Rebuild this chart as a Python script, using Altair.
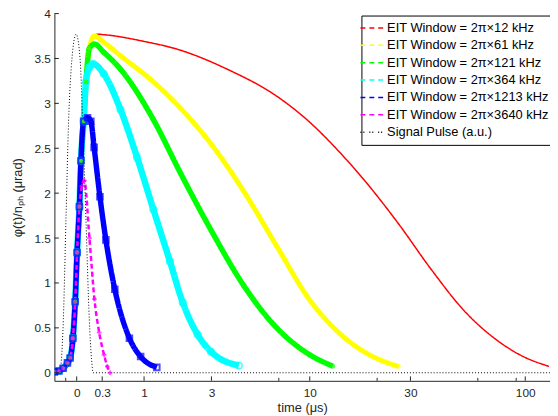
import altair as alt
import pandas as pd

# ---------------- data ----------------
labels = [
    "EIT Window = 2π×12 kHz",
    "EIT Window = 2π×61 kHz",
    "EIT Window = 2π×121 kHz",
    "EIT Window = 2π×364 kHz",
    "EIT Window = 2π×1213 kHz",
    "EIT Window = 2π×3640 kHz",
    "Signal Pulse (a.u.)",
]
colors = ["#ff0000", "#ffff00", "#00ff00", "#00ffff", "#0000ff", "#ff00ff", "#000000"]
dashes = [[1, 0], [1, 0], [1, 0], [1, 0], [1, 0], [5, 3], [1, 2]]

# common rising edge (time in µs, phase in µrad)
rise_t = [-0.258, -0.2, -0.15, -0.1, -0.07, -0.04, -0.016, 0.004, 0.028, 0.045, 0.074, 0.1, 0.138]
rise_y = [0.01, 0.02, 0.05, 0.11, 0.165, 0.385, 0.79, 1.34, 1.85, 2.36, 2.80, 3.24, 3.61]

red_t = [0.2, 0.24, 0.32, 1.0, 1.84, 3.71, 6.83, 10, 13.4, 18.5, 26.4, 37.4, 52.9, 74.7, 98, 128]
red_y = [3.75, 3.77, 3.765, 3.69, 3.60, 3.38, 3.08, 2.79, 2.50, 2.13, 1.66, 1.15, 0.69, 0.36, 0.18, 0.071]

yellow_t = [0.2, 0.32, 0.57, 1.2, 1.9, 2.98, 4.58, 6.83, 10, 14.4, 18.5, 26.4]
yellow_y = [3.75, 3.68, 3.53, 3.24, 2.95, 2.55, 2.02, 1.41, 0.81, 0.41, 0.225, 0.07]

green_t = [0.2, 0.32, 0.57, 1.2, 1.9, 2.98, 4.58, 6.83, 10, 12.9]
green_y = [3.66, 3.57, 3.38, 2.82, 2.23, 1.59, 0.97, 0.50, 0.20, 0.075]

cyan_t = [0.14, 0.18, 0.32, 0.57, 0.86, 1.2, 1.61, 1.98, 2.47, 2.98, 4.3]
cyan_y = [3.40, 3.44, 3.33, 2.93, 2.40, 1.82, 1.24, 0.78, 0.425, 0.235, 0.08]

blue_t = [0.118, 0.157, 0.196, 0.27, 0.35, 0.48, 0.72, 0.93, 1.28]
blue_y = [2.84, 2.80, 2.51, 1.96, 1.48, 0.93, 0.385, 0.18, 0.06]

magenta_t = [0.055, 0.081, 0.14, 0.2, 0.26, 0.325, 0.37, 0.41]
magenta_y = [2.08, 2.14, 1.50, 0.82, 0.45, 0.20, 0.07, 0.0]

# number of common rising-edge points each curve follows
rise_keep = [13, 13, 13, 12, 11, 9]

signal_t = [-0.258, -0.19, -0.17, -0.147, -0.117, -0.087, -0.05, -0.006, 0.035, 0.063, 0.1, 0.138, 0.165, 0.185, 130]
signal_y = [0.0, 0.0, 0.15, 0.6, 1.70, 2.8, 3.5, 3.77, 3.5, 2.8, 1.70, 0.6, 0.15, 0.0, 0.0]

x_tick_values = [0, 0.3, 1, 3, 10, 30, 100]
x_minor_ticks = [-0.12, 7, 21, 61, 91]
y_tick_values = [0, 0.5, 1, 1.5, 2, 2.5, 3, 3.5, 4]

# ---------------- build table ----------------
decays = [(red_t, red_y), (yellow_t, yellow_y), (green_t, green_y),
          (cyan_t, cyan_y), (blue_t, blue_y), (magenta_t, magenta_y)]
rows = []
for i, (dt, dy) in enumerate(decays):
    k = rise_keep[i]
    for t, y in zip(rise_t[:k] + dt, rise_y[:k] + dy):
        rows.append({"t": t, "y": y, "s": labels[i]})
for t, y in zip(signal_t, signal_y):
    rows.append({"t": t, "y": y, "s": labels[6]})
df = pd.DataFrame(rows)

W, H = 502, 372
FONT = "Liberation Sans"
AX = "#262626"

xscale = alt.Scale(type="symlog", constant=1, domain=[-0.258, 129.3], nice=False, zero=False)
yscale = alt.Scale(domain=[-0.09, 4.0], nice=False, zero=False)
cscale = alt.Scale(domain=labels, range=colors)
dscale = alt.Scale(domain=labels, range=dashes)

legend = alt.Legend(
    title=None, orient="none", legendX=311, legendY=2,
    fillColor="white", strokeColor="black", padding=5, cornerRadius=0,
    symbolType="M-2.08,0L-1.31,0M-0.69,0L0.08,0M0.69,0L1.46,0",
    symbolSize=169, symbolStrokeWidth=1.5, labelOffset=6, rowPadding=2.6,
    labelFont=FONT, labelFontSize=13, labelColor="#000000", labelLimit=400,
)

x_axis = alt.Axis(values=x_tick_values, labelExpr="'' + datum.value", ticks=False,
                  grid=False, domainColor=AX, labelColor=AX, labelFont=FONT,
                  labelFontSize=12, labelPadding=7, title="time (μs)",
                  titleFont=FONT, titleFontSize=13, titleFontWeight="normal",
                  titleColor=AX, titlePadding=3)
y_axis = alt.Axis(values=y_tick_values, labelExpr="'' + datum.value", ticks=False,
                  grid=False, domainColor=AX, labelColor=AX, labelFont=FONT,
                  labelFontSize=12, labelPadding=4, title="φ(t)/nₚₕ  (μrad)",
                  titleFont=FONT, titleFontSize=13, titleFontWeight="normal",
                  titleColor=AX, titlePadding=10)


def X(field):
    return alt.X(field, scale=xscale, axis=x_axis)


def Y(field):
    return alt.Y(field, scale=yscale, axis=y_axis)


widths = [1.5, 5, 5.5, 6.5, 5.5, 2.5, 1]
layers = []
for i, lab in enumerate(labels):
    layers.append(
        alt.Chart(df).transform_filter(alt.datum.s == lab)
        .mark_line(strokeWidth=widths[i], clip=True, interpolate="monotone")
        .encode(
            x=X("t:Q"), y=Y("y:Q"),
            color=alt.Color("s:N", scale=cscale, legend=legend),
            strokeDash=alt.StrokeDash("s:N", scale=dscale, legend=legend),
        )
    )

# markers on some series
marker_specs = [
    (1, dict(shape="cross", filled=True, size=22)),
    (2, dict(shape="circle", filled=True, size=28)),
    (3, dict(shape="circle", filled=False, size=45, strokeWidth=1.6)),
    (4, dict(shape="square", filled=False, size=32, strokeWidth=2)),
    (5, dict(shape="cross", filled=True, size=22)),
]
for i, props in marker_specs:
    layers.append(
        alt.Chart(df).transform_filter(alt.datum.s == labels[i])
        .mark_point(color=colors[i], clip=True, **props)
        .encode(x=X("t:Q"), y=Y("y:Q"))
    )

# inward ticks
xt_major = pd.DataFrame({"t": x_tick_values})
xt_minor = pd.DataFrame({"t": x_minor_ticks})
yt = pd.DataFrame({"y": y_tick_values})
layers.append(alt.Chart(xt_major).mark_rule(color=AX, strokeWidth=1).encode(
    x=X("t:Q"), y=alt.value(H), y2=alt.value(H - 4.5)))
layers.append(alt.Chart(xt_minor).mark_rule(color=AX, strokeWidth=1).encode(
    x=X("t:Q"), y=alt.value(H), y2=alt.value(H - 3)))
layers.append(alt.Chart(yt).mark_rule(color=AX, strokeWidth=1).encode(
    y=Y("y:Q"), x=alt.value(0), x2=alt.value(4.5)))

chart = (
    alt.layer(*layers)
    .properties(width=W, height=H, autosize=alt.AutoSizeParams(type="none"),
                padding={"left": 47, "top": 3, "right": 0, "bottom": 35},
                background="white")
    .configure_view(stroke=None)
)

chart.save("out.html", embed_options={"renderer": "svg", "actions": False})
